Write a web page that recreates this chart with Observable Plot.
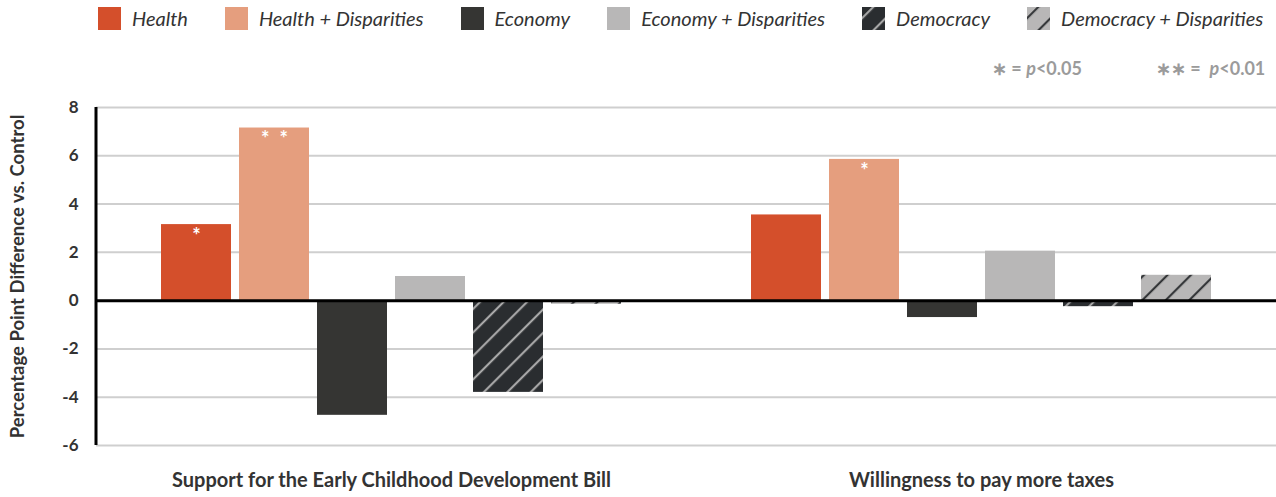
<!DOCTYPE html>
<html>
<head>
<meta charset="utf-8">
<script src="https://cdn.jsdelivr.net/npm/d3@7"></script>
<script src="https://cdn.jsdelivr.net/npm/@observablehq/plot@0.6"></script>
<style>
  body { margin: 0; background: #fff; font-family: "Lato", sans-serif; }
  #legend { position: relative; height: 90px; width: 1276px; }
  #items { position: absolute; left: 98px; top: 7px; display: flex; align-items: flex-start; }
  .item { display: flex; align-items: flex-start; margin-right: 37px; }
  .sw { width: 23px; height: 23px; display: block; }
  .lt { margin-left: 11px; font-style: italic; font-size: 20px; line-height: 23px; color: #333; white-space: nowrap; }
  .pv { position: absolute; top: 57px; font-size: 18px; font-weight: 700; color: #9b9b9b; white-space: nowrap; }
  .pv i { font-style: italic; }
  #chart svg g[aria-label="y-axis tick label"] text { fill: #333; font-weight: 700; font-size: 17px; }
  #chart svg g[aria-label="fx-axis tick label"] text { fill: #333; font-weight: 700; font-size: 20px; }
  #chart svg g[aria-label="y-axis label"] text { fill: #333; font-weight: 700; font-size: 18.5px; }
</style>
</head>
<body>
<div id="legend">
  <div id="items"></div>
  <div class="pv" style="left:992px">∗ = <i>p</i>&lt;0.05</div>
  <div class="pv" style="left:1156px">∗∗ = &nbsp;<i>p</i>&lt;0.01</div>
</div>
<div id="chart"></div>
<script>
const groups = ["Support for the Early Childhood Development Bill", "Willingness to pay more taxes"];
const seriesNames = ["Health", "Health + Disparities", "Economy", "Economy + Disparities", "Democracy", "Democracy + Disparities"];
const earlyChildhoodValues = [3.15, 7.15, -4.75, 1.0, -3.8, -0.15];
const payTaxesValues = [3.55, 5.85, -0.7, 2.05, -0.25, 1.05];
const earlyChildhoodSig = ["*", "**", "", "", "", ""];
const payTaxesSig = ["", "*", "", "", "", ""];
const seriesFills = ["#d44f2b", "#e59e7e", "#353533", "#b8b7b7", "url(#demPattern)", "url(#demDisPattern)"];
const yTicks = [-6, -4, -2, 0, 2, 4, 6, 8];

const valuesByGroup = [earlyChildhoodValues, payTaxesValues];
const sigByGroup = [earlyChildhoodSig, payTaxesSig];
const data = [];
groups.forEach((g, gi) => seriesNames.forEach((s, si) => data.push({
  group: g, series: s, value: valuesByGroup[gi][si], sig: sigByGroup[gi][si]
})));

// legend
const items = d3.select("#items");
seriesNames.forEach((s, i) => {
  const it = items.append("div").attr("class", "item");
  it.append("svg").attr("class", "sw").attr("width", 23).attr("height", 23)
    .append("rect").attr("width", 23).attr("height", 23).attr("fill", seriesFills[i]);
  it.append("span").attr("class", "lt").text(s);
});

const chart = Plot.plot({
  width: 1276,
  height: 407,
  marginLeft: 96,
  marginRight: 0,
  marginTop: 17,
  marginBottom: 52,
  style: { fontFamily: "Lato, sans-serif", background: "#fff", overflow: "visible" },
  fx: { domain: groups, padding: 0, label: null },
  x: { domain: seriesNames, axis: null, paddingInner: 0.1, paddingOuter: 0.8 },
  y: { domain: [-6, 8] },
  color: { type: "ordinal", domain: seriesNames, range: seriesFills },
  marks: [
    Plot.ruleY(yTicks, { stroke: "#cfcfcf", strokeWidth: 2 }),
    Plot.barY(data, { fx: "group", x: "series", y: "value", fill: "series" }),
    Plot.ruleY([0], { stroke: "#000", strokeWidth: 3 }),
    Plot.text(data.filter(d => d.sig), {
      fx: "group", x: "series", y: "value",
      text: d => d.sig === "**" ? "*\u2002*" : "*",
      fill: "white", lineAnchor: "top", dy: 4, fontSize: 20, fontWeight: 700
    }),
    Plot.axisY({
      ticks: yTicks, tickSize: 0, tickPadding: 18, tickFormat: d => String(d),
      label: "Percentage Point Difference vs. Control",
      labelAnchor: "center", labelOffset: 86, labelArrow: "none"
    }),
    Plot.axisFx({ anchor: "bottom", tickSize: 0, tickPadding: 27, label: null })
  ]
});
document.getElementById("chart").appendChild(chart);

const svg = d3.select(chart);
const defs = svg.insert("defs", ":first-child");
function addPattern(id, bg, fg) {
  const p = defs.append("pattern").attr("id", id)
    .attr("patternUnits", "userSpaceOnUse").attr("width", 16.6).attr("height", 16.6)
    .attr("patternTransform", "rotate(45)");
  p.append("rect").attr("width", 16.6).attr("height", 16.6).attr("fill", bg);
  p.append("rect").attr("x", 7).attr("width", 2).attr("height", 16.6).attr("fill", fg);
}
addPattern("demPattern", "#2a2d30", "#b0b0b0");
addPattern("demDisPattern", "#b8b7b7", "#2a2d30");

// left axis line through the library's y scale
const y = chart.scale("y");
svg.append("line")
  .attr("x1", 96).attr("x2", 96)
  .attr("y1", y.apply(8)).attr("y2", y.apply(-6))
  .attr("stroke", "#000").attr("stroke-width", 3);
</script>
</body>
</html>
